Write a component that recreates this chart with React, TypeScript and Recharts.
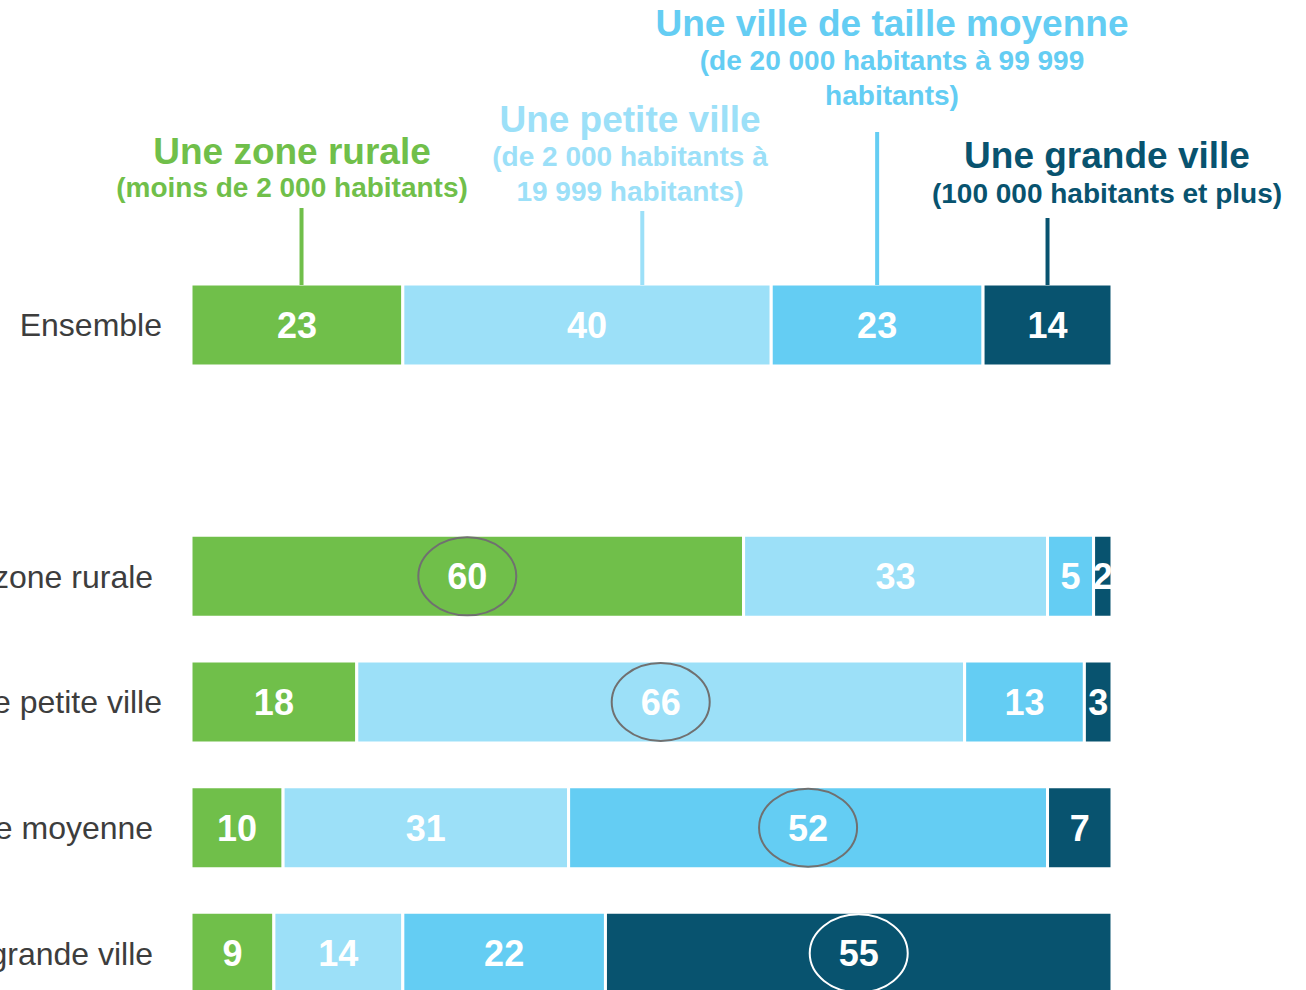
import React from "react";
import { BarChart, Bar, XAxis, YAxis, LabelList } from "recharts";

// categories (the blank one is the spacer row between "Ensemble" and the detail rows)
const categories = [
  "Ensemble",
  "",
  "Une zone rurale\u00a0",
  "Une petite ville",
  "Une ville de taille moyenne\u00a0",
  "Une grande ville\u00a0",
];
const rurale = [23, 0, 60, 18, 10, 9];
const petite = [40, 0, 33, 66, 31, 14];
const moyenne = [23, 0, 5, 13, 52, 22];
const grande = [14, 0, 2, 3, 7, 55];
// which segment is circled in each row
const circled = ["", "", "rurale", "petite", "moyenne", "grande"];

const seriesKeys = ["rurale", "petite", "moyenne", "grande"];
const seriesTitles = [
  "Une zone rurale",
  "Une petite ville",
  "Une ville de taille moyenne",
  "Une grande ville",
];
const seriesSubtitles = [
  ["(moins de 2 000 habitants)"],
  ["(de 2 000 habitants à", "19 999 habitants)"],
  ["(de 20 000 habitants à 99 999", "habitants)"],
  ["(100 000 habitants et plus)"],
];
// where each title's pointer meets the "Ensemble" bar (in % of the axis)
const pointerAt = [12, 49, 74.5, 93];

const colors: Record<string, string> = {
  rurale: "#70BF4A",
  petite: "#9CE0F8",
  moyenne: "#64CDF3",
  grande: "#08536F",
};

const data = categories.map((name, i) => ({
  name,
  rurale: rurale[i],
  petite: petite[i],
  moyenne: moyenne[i],
  grande: grande[i],
  circled: circled[i],
}));

const W = 1306;
const H = 1016;
const FONT = "'Liberation Sans', Arial, Helvetica, sans-serif";
const margin = { top: 262, right: 194, bottom: 0, left: 0 };
const yAxisWidth = 191;
const plotLeft = margin.left + yAxisWidth;
const plotWidth = W - plotLeft - margin.right;
const xPx = (v: number) => plotLeft + (v / 100) * plotWidth;

// title layout: centre x, title baseline, subtitle baselines, pointer top
const titleLayout = [
  { cx: 292, ty: 164, sy: [197], top: 208 },
  { cx: 630, ty: 132, sy: [166, 201], top: 211 },
  { cx: 892, ty: 36, sy: [70, 105], top: 132 },
  { cx: 1107, ty: 168, sy: [203], top: 218 },
];
const barTop = 285;

const CategoryTick = (props: any) => {
  const { x, y, payload } = props;
  if (!payload.value) return null;
  return (
    <text
      x={x}
      y={y}
      dy="0.36em"
      textAnchor="end"
      fontFamily={FONT}
      fontSize={32}
      fill="#3d3d3d"
    >
      {payload.value}
    </text>
  );
};

const ValueLabel = (props: any) => {
  const { x, y, width, height, value } = props;
  if (!value) return null;
  return (
    <text
      x={x + width / 2}
      y={y + height / 2}
      dy="0.36em"
      textAnchor="middle"
      fontFamily={FONT}
      fontWeight="bold"
      fontSize={36}
      fill="#ffffff"
    >
      {value}
    </text>
  );
};

const makeRing = (key: string) => (props: any) => {
  const { x, y, width, height, value } = props;
  if (value !== key) return null;
  return (
    <ellipse
      cx={x + width / 2}
      cy={y + height / 2}
      rx={49}
      ry={39}
      fill="none"
      stroke={key === "grande" ? "#ffffff" : "#707070"}
      strokeWidth={2}
    />
  );
};

export default function App() {
  return (
    <div
      style={{
        position: "absolute",
        left: 0,
        top: 0,
        width: W,
        height: 990,
        overflow: "hidden",
        background: "#fff",
      }}
    >
      <BarChart
        width={W}
        height={H}
        data={data}
        layout="vertical"
        margin={margin}
        barSize={82}
      >
        <XAxis type="number" domain={[0, 100]} hide />
        <YAxis
          type="category"
          dataKey="name"
          width={yAxisWidth}
          axisLine={false}
          tickLine={false}
          tickSize={0}
          tickMargin={29}
          tick={<CategoryTick />}
          interval={0}
        />
        {seriesKeys.map((key) => (
          <Bar
            key={key}
            dataKey={key}
            stackId="a"
            fill={colors[key]}
            stroke="#ffffff"
            strokeWidth={3}
            isAnimationActive={false}
          >
            <LabelList dataKey="circled" content={makeRing(key)} />
            <LabelList dataKey={key} content={ValueLabel} />
          </Bar>
        ))}
      </BarChart>

      <svg
        width={W}
        height={990}
        style={{ position: "absolute", left: 0, top: 0, pointerEvents: "none" }}
      >
        {seriesKeys.map((key, i) => {
          const l = titleLayout[i];
          const px = xPx(pointerAt[i]);
          return (
            <g key={key} fill={colors[key]} fontFamily={FONT} fontWeight="bold" textAnchor="middle">
              <text x={l.cx} y={l.ty} fontSize={37}>
                {seriesTitles[i]}
              </text>
              {seriesSubtitles[i].map((s, j) => (
                <text key={j} x={l.cx} y={l.sy[j]} fontSize={28}>
                  {s}
                </text>
              ))}
              <line x1={px} x2={px} y1={l.top} y2={barTop} stroke={colors[key]} strokeWidth={4} />
            </g>
          );
        })}
      </svg>
    </div>
  );
}
